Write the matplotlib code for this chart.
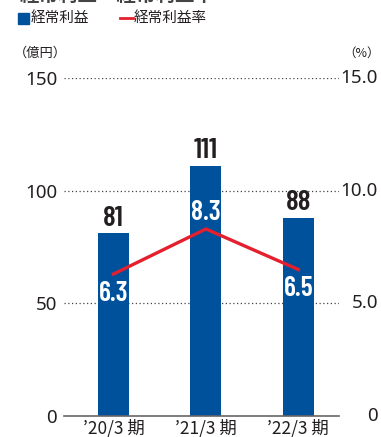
import numpy as np
import matplotlib
matplotlib.use('Agg')
import matplotlib.pyplot as plt
from matplotlib.patches import Rectangle
from matplotlib.lines import Line2D
import matplotlib.transforms as mtransforms

plt.rcParams['font.family'] = ['Noto Sans CJK JP', 'DejaVu Sans']

# data
periods = ['’20/3 期', '’21/3 期', '’22/3 期']
profit = [81, 111, 88]          # 経常利益 (億円)
margin = [6.3, 8.3, 6.5]        # 経常利益率 (%)
left_ticks = [0, 50, 100, 150]
right_ticks = [0, 5, 10, 15]
right_labels = ['0', '5.0', '10.0', '15.0']

blue = '#00519c'
red = '#e5202e'
ink = '#231f20'
num_font = ['Barlow Condensed', 'DejaVu Sans']
tick_font = ['Noto Sans', 'DejaVu Sans']

W, H = 381, 437
fig = plt.figure(figsize=(W / 100, H / 100), dpi=100)
ax = fig.add_axes([64 / W, 21 / H, 275 / W, 338 / H])
ax2 = ax.twinx()

x = np.arange(len(periods))
ax.bar(x, profit, width=0.335, color=blue, zorder=2)
ax.set_xlim(-0.535, 2.44)
ax.set_ylim(0, 150)
ax2.set_ylim(0, 15)

# dotted gridlines
for v in left_ticks[1:]:
    ax.axhline(v, color='#444444', lw=0.9, ls=(0, (1, 2)), zorder=1)

ax2.plot(x, margin, color=red, lw=2.4, zorder=3)

for s in ['top', 'left', 'right']:
    ax.spines[s].set_visible(False)
    ax2.spines[s].set_visible(False)
ax.spines['bottom'].set_color('#666666')
ax.spines['bottom'].set_linewidth(1.2)
ax2.spines['bottom'].set_visible(False)

ax.set_yticks(left_ticks)
ax.set_yticklabels([str(v) for v in left_ticks], fontsize=13.5, color=ink,
                   family=tick_font)
ax.tick_params(axis='y', length=0, pad=5)

# right axis labels, right-aligned at the figure edge
ax2.set_yticks([])
trans = mtransforms.blended_transform_factory(fig.transFigure, ax2.transData)
for v, lab in zip(right_ticks, right_labels):
    ax2.text(378 / W, v, lab, transform=trans, ha='right', va='center',
             fontsize=13.5, color=ink, family=tick_font)

ax.set_xticks(x)
ax.set_xticklabels(periods, fontsize=12.5, color=ink)
ax.tick_params(axis='x', length=0, pad=2)

# value labels
for xi, v in zip(x, profit):
    ax.annotate(str(v), (xi, v), xytext=(0, 2), textcoords='offset points',
                ha='center', va='bottom', fontsize=21, fontweight=600,
                color=ink, family=num_font)
for xi, m in zip(x, margin):
    off = 12 if m == max(margin) else -14
    ax2.annotate(f'{m:.1f}', (xi, m), xytext=(0, off), textcoords='offset points',
                 ha='center', va='center', fontsize=20, fontweight=600,
                 color='white', family=num_font, zorder=4)

# header
fig.text(20 / W, 1 - 1 / H, '経常利益・経常利益率', fontsize=14, fontweight='bold',
         color='#444444', va='baseline')
fig.patches.append(Rectangle((18 / W, 1 - 24 / H), 11 / W, 11 / H,
                             transform=fig.transFigure, color=blue))
fig.text(31 / W, 1 - 18 / H, '経常利益', fontsize=10.5, color=ink, va='center')
fig.lines.append(Line2D([120 / W, 133 / W], [1 - 17.5 / H] * 2,
                        transform=fig.transFigure, color=red, lw=2))
fig.text(134 / W, 1 - 18 / H, '経常利益率', fontsize=10.5, color=ink, va='center')
fig.text(14 / W, 1 - 53 / H, '（億円）', fontsize=9.5, color=ink, va='center')
fig.text(380 / W, 1 - 53 / H, '（%）', fontsize=9, color=ink, va='center', ha='right')

fig.savefig('out.png', dpi=100)
